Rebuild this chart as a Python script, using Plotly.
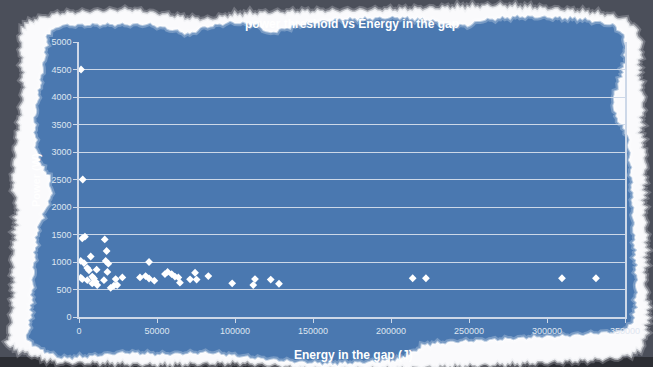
import math
import plotly.graph_objects as go

# Energy in the gap vs power threshold measurements
energy = [1300, 2400, 2100, 3800, 16500, 17700, 7500, 1100, 3200, 17100,
          18800, 5300, 6400, 11300, 18200, 1100, 2100, 5300, 8500, 9600,
          8500, 16000, 23500, 27800, 11700, 10700, 20300, 22400, 24500,
          39100, 42700, 44900, 48300, 44900, 55100, 56800, 59400, 61500,
          63700, 64700, 71200, 74400, 75400, 82900, 98200, 111700, 112800,
          122900, 128200, 213900, 222400, 309600, 331400]
power = [4500, 2500, 1430, 1460, 1410, 1200, 1100, 1020, 980, 1020,
         970, 890, 850, 860, 820, 715, 690, 670, 735, 700,
         610, 670, 690, 720, 580, 640, 530, 570, 580,
         720, 745, 700, 660, 1000, 780, 820, 780, 735,
         720, 625, 685, 805, 680, 745, 612, 580, 690,
         680, 605, 705, 705, 705, 705]

x_ticks = [0, 50000, 100000, 150000, 200000, 250000, 300000, 350000]
y_ticks = [0, 500, 1000, 1500, 2000, 2500, 3000, 3500, 4000, 4500, 5000]

W, H = 653, 367
L, R, T, B = 79, 28, 42, 50
PW, PH = W - L - R, H - T - B

BLUE = "#4a78b0"
GRID = "#cdd8e8"
TICK_TXT = "#dfe6f0"


def to_paper(px, py):
    return (px - L) / PW, (H - B - py) / PH


def torn(points, step=2.5, amp=1.2):
    """Densify a closed outline and ripple it so the edge looks torn."""
    out = []
    s = 0.0
    n = len(points)
    for i in range(n):
        ax, ay = points[i]
        bx, by = points[(i + 1) % n]
        dx, dy = bx - ax, by - ay
        d = math.hypot(dx, dy) or 1.0
        nx, ny = -dy / d, dx / d
        k = max(1, int(d / step))
        for j in range(k):
            t = j / k
            s += d / k
            off = amp * (math.sin(0.45 * s) + 0.8 * math.sin(1.3 * s + 1.3)
                         + 0.35 * math.sin(3.7 * s + 2.1))
            out.append((ax + t * dx + nx * off, ay + t * dy + ny * off))
    return out


def path_of(points):
    pts = [to_paper(x, y) for x, y in points]
    return "M " + " L ".join(f"{x:.5f},{y:.5f}" for x, y in pts) + " Z"


paper_edge = [(22, 28), (35, 20), (60, 14), (95, 12), (130, 10), (150, 13), (170, 16),
              (190, 19), (210, 20), (230, 16), (250, 14), (275, 13), (300, 12), (350, 11),
              (400, 10), (450, 8), (500, 6), (530, 8), (560, 10), (590, 13), (610, 16),
              (625, 20), (635, 28), (641, 45), (638, 70), (643, 100), (640, 130),
              (645, 160), (643, 200), (646, 240), (644, 280), (648, 310), (645, 335),
              (640, 350), (620, 357), (580, 360), (540, 362), (500, 364), (450, 366),
              (400, 368), (300, 368), (280, 365), (240, 362), (200, 363), (150, 364),
              (100, 362), (60, 362), (40, 357), (20, 350), (8, 345), (12, 320),
              (14, 290), (13, 260), (16, 230), (18, 205), (13, 185), (16, 150),
              (20, 120), (24, 90), (22, 60), (21, 40)]

blue_edge = [(47, 34), (60, 25), (100, 24), (150, 24), (175, 30), (190, 34), (200, 28),
             (230, 22), (258, 24), (268, 33), (282, 29), (300, 24), (340, 19), (400, 17),
             (430, 20), (450, 25), (470, 25), (480, 20), (520, 16), (580, 18), (615, 25),
             (625, 37), (626, 60), (619, 84), (613, 100), (616, 116), (628, 135),
             (632, 180), (634, 230), (637, 280), (636, 310), (632, 325), (620, 332),
             (604, 333), (570, 336), (542, 337), (500, 340), (458, 342), (425, 345),
             (414, 352), (400, 360), (360, 363), (330, 364), (292, 362), (250, 358),
             (208, 353), (160, 355), (125, 353), (90, 357), (62, 359), (40, 350),
             (26, 340), (30, 320), (32, 290), (34, 260), (37, 230), (44, 212),
             (51, 196), (49, 176), (41, 166), (36, 150), (34, 120), (38, 95),
             (43, 65), (46, 45)]

white_outline = torn(paper_edge, amp=1.4)
blue_outline = torn(blue_edge, amp=1.1)
white_path = path_of(white_outline)
blue_path = path_of(blue_outline)

shapes = [
    dict(type="rect", xref="paper", yref="paper", layer="below",
         x0=to_paper(0, 0)[0], x1=to_paper(W, 0)[0],
         y0=to_paper(0, H)[1], y1=to_paper(0, 357)[1],
         fillcolor="#2c2e34", line=dict(width=0)),
    # soft halo of the paper edge
    dict(type="path", xref="paper", yref="paper", layer="below",
         path=white_path, fillcolor="rgba(0,0,0,0)",
         line=dict(color="rgba(230,232,238,0.25)", width=7)),
    dict(type="path", xref="paper", yref="paper", layer="below",
         path=white_path, fillcolor="rgba(250,250,252,1)",
         line=dict(color="rgba(235,236,240,0.6)", width=3)),
    dict(type="path", xref="paper", yref="paper", layer="below",
         path=blue_path, fillcolor=BLUE,
         line=dict(color="rgba(255,255,255,0.25)", width=6)),
    dict(type="path", xref="paper", yref="paper", layer="below",
         path=blue_path, fillcolor="rgba(0,0,0,0)",
         line=dict(color="rgba(255,255,255,0.5)", width=2)),
]

fig = go.Figure()
fig.add_trace(go.Scatter(
    x=energy, y=power, mode="markers",
    marker=dict(symbol="diamond", size=6, color="white", line=dict(width=0)),
    showlegend=False, hoverinfo="x+y",
))

tick_font = dict(family="Liberation Sans, Arial, sans-serif", size=9, color=TICK_TXT)

fig.update_layout(
    width=W, height=H,
    margin=dict(l=L, r=R, t=T, b=B, pad=0),
    paper_bgcolor="#4b4f5a",
    plot_bgcolor="rgba(0,0,0,0)",
    shapes=shapes,
    title=dict(text="power threshold vs Energy in the gap",
               x=352 / W, xanchor="center", y=1 - 24 / H, yanchor="middle",
               font=dict(family="Liberation Sans, Arial, sans-serif", size=12,
                         color="white", weight="bold")),
    xaxis=dict(range=[0, 350000], tickvals=x_ticks, tickformat="d",
               showgrid=False, zeroline=False,
               showline=True, linecolor=GRID, linewidth=1.5,
               ticks="outside", ticklen=4, tickcolor=GRID, tickfont=tick_font),
    yaxis=dict(range=[0, 5000], tickvals=y_ticks, tickformat="d",
               showgrid=True, gridcolor=GRID, gridwidth=1, zeroline=False,
               showline=True, linecolor=GRID, linewidth=1.5, mirror=True,
               ticks="outside", ticklen=4, tickcolor=GRID, tickfont=tick_font),
    annotations=[
        dict(text="Energy in the gap (J)", xref="paper", yref="paper",
             x=to_paper(353, 0)[0], y=to_paper(0, 355)[1],
             xanchor="center", yanchor="middle", showarrow=False,
             font=dict(family="Liberation Sans, Arial, sans-serif", size=12,
                       color="white", weight="bold")),
        dict(text="Power (W)", xref="paper", yref="paper", textangle=-90,
             x=to_paper(36, 0)[0], y=to_paper(0, 180)[1],
             xanchor="center", yanchor="middle", showarrow=False,
             font=dict(family="Liberation Sans, Arial, sans-serif", size=11,
                       color="white", weight="bold")),
    ],
)

fig.write_html("out.html")
